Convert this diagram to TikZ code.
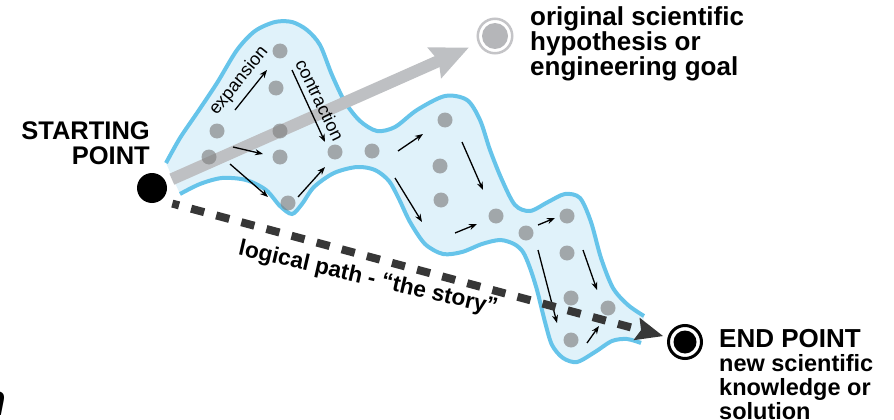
\documentclass[tikz,border=0pt]{standalone}
\usepackage{fontspec}
\setmainfont{Liberation Sans}
\usetikzlibrary{arrows.meta,positioning}

\definecolor{lobe}{RGB}{224,242,250}
\definecolor{lobeline}{RGB}{102,196,234}
\definecolor{hopegray}{RGB}{190,192,195}
\definecolor{ringgray}{RGB}{196,196,199}
\definecolor{storygray}{RGB}{55,55,55}

\tikzset{
  bigtext/.style={font=\fontsize{26}{25}\selectfont\bfseries, inner sep=0, align=left},
  smalltext/.style={font=\fontsize{23.5}{24}\selectfont\bfseries, inner sep=0, align=left},
  tinytext/.style={font=\fontsize{18}{18}\selectfont, inner sep=0},
  stone/.style={circle, fill=black!50, fill opacity=0.65, minimum size=15, inner sep=0},
  flowarrow/.style={line width=1.3pt, -{Stealth[length=8pt,width=6pt]}},
  hopeline/.style={line width=12pt, hopegray, -{Stealth[length=37pt,width=32pt,inset=4pt]}},
  storyline/.style={line width=8pt, storygray, dash pattern=on 13.5pt off 12.5pt,
    dash phase=6.5pt, -{Stealth[length=27pt,width=22pt,inset=4pt]}}
}

\begin{document}
\begin{tikzpicture}[x=1pt, y=-1pt]

  \useasboundingbox (0,0) rectangle (894,420);

  % Search space
  % ============

  \fill[lobe]
    plot[smooth] coordinates {(166,163) (180,138) (197,113) (217,83) (237,50)
      (255,31) (275,22) (292,22) (307,30) (320,45) (332,75) (345,102) (360,121)
      (377,131) (395,127) (417,110) (445,96) (467,100) (480,120) (490,150)
      (502,180) (515,205) (530,211) (548,202) (565,194) (580,198) (591,222)
      (601,258) (613,288) (628,305) (644,316)}
    -- plot[smooth] coordinates {(641,343) (627,339) (612,341) (595,352)
      (577,362) (563,358) (552,345) (545,322) (537,290) (530,268) (523,252)
      (514,244) (500,240) (482,244) (462,252) (443,254) (425,244) (410,222)
      (399,199) (389,181) (375,170) (357,167) (334,173) (314,187) (302,204)
      (292,214) (280,206) (266,190) (246,180) (222,178) (200,184) (180,194)}
    -- cycle;

  \draw[lobeline, line width=4pt]
    plot[smooth] coordinates {(166,163) (180,138) (197,113) (217,83) (237,50)
      (255,31) (275,22) (292,22) (307,30) (320,45) (332,75) (345,102) (360,121)
      (377,131) (395,127) (417,110) (445,96) (467,100) (480,120) (490,150)
      (502,180) (515,205) (530,211) (548,202) (565,194) (580,198) (591,222)
      (601,258) (613,288) (628,305) (644,316)};

  \draw[lobeline, line width=4pt]
    plot[smooth] coordinates {(641,343) (627,339) (612,341) (595,352)
      (577,362) (563,358) (552,345) (545,322) (537,290) (530,268) (523,252)
      (514,244) (500,240) (482,244) (462,252) (443,254) (425,244) (410,222)
      (399,199) (389,181) (375,170) (357,167) (334,173) (314,187) (302,204)
      (292,214) (280,206) (266,190) (246,180) (222,178) (200,184) (180,194)};

  % End points
  % ==========

  \node[circle, fill=black, minimum size=30, inner sep=0] (start) at (152,188) {};

  \node[circle, draw=ringgray, line width=2.5pt, minimum size=34.5, inner sep=0] (goal) at (495,36) {};
  \fill[hopegray!95!black] (goal.center) circle (13);

  \node[circle, draw=black, line width=3pt, minimum size=33, inner sep=0] (finish) at (685,342) {};
  \fill[black] (finish.center) circle (11.5);

  % Straight line to the goal
  % -------------------------
  \draw[hopeline, shorten <=6.5pt, shorten >=10pt] (start) -- (goal);

  % Ideas
  % =====

  \foreach \n/\x/\y in {1/280/51, 2/276/88, 3/217/131, 4/280/131, 5/209/157,
    6/280/157, 7/288/203, 8/335/152, 9/372/151, 10/445/120, 11/440/166,
    12/441/200, 13/496/216, 14/526/233, 15/567/216, 16/567/253, 17/571/298,
    18/608/308, 19/571/340}
  \node[stone] (d\n) at (\x,\y) {};

  % Steps
  % -----
  \foreach \a/\b/\c/\d in {235/110/267/70, 292/70/325/142, 233/147/263/154,
    230/164/268/197, 298/197/325/167, 398/151/423/134, 395/178/422/222,
    462/142/483/190, 455/233/477/224, 538/225/555/218, 538/250/557/323,
    583/250/597/290, 587/343/599/326}
  \draw[flowarrow] (\a,\b) -- (\c,\d);

  % The story
  % ---------
  \draw[storyline, shorten <=12pt, shorten >=4.5pt] (start.-55) -- (finish);

  % Labels
  % ======

  \node[bigtext, anchor=north west] (goaltext) at (530,6)
    {original scientific\\hypothesis or\\engineering goal};
  \node[bigtext, font=\fontsize{25.5}{25}\selectfont\bfseries, align=right, anchor=north east]
    (starttext) at (150,121) {STARTING\\POINT};
  \node[bigtext, anchor=north west] (endtext) at (719,329) {END POINT};
  \node[smalltext, below=6pt of endtext.south west, anchor=north west] (enddesc)
    {new scientific\\knowledge or\\solution};

  \node[font=\fontsize{22.7}{22}\selectfont\bfseries, rotate=-13, inner sep=0] (storytext)
    at (368,279) {logical path - “the story”};
  \node[tinytext, rotate=51] (exptext) at (239,81) {expansion};
  \node[tinytext, rotate=-64] (context) at (320,100) {contraction};

  \node[font=\fontsize{44}{44}\selectfont\bfseries\itshape, anchor=base west, inner sep=0]
    (cutletter) at (-21,415) {n};

\end{tikzpicture}
\end{document}
